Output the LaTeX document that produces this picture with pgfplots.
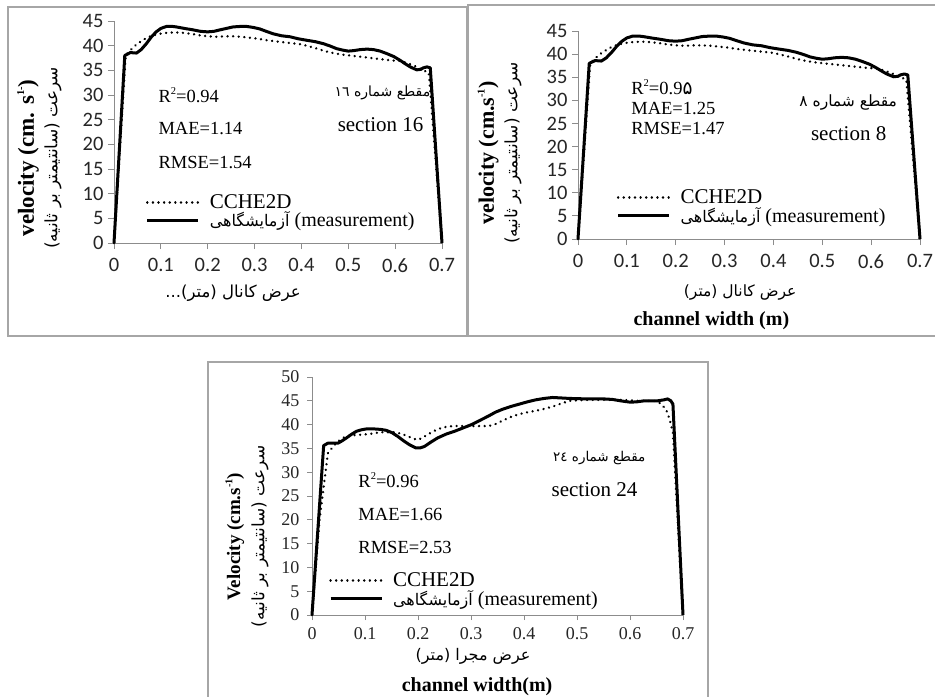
\documentclass[border=0pt]{standalone}
\usepackage{fontspec}
\setmainfont{Liberation Serif}
\newfontfamily\calib{Carlito}
\newfontfamily\arabicfont[Script=Arabic]{DejaVu Sans}
\usepackage{pgfplots}
\usepackage{pgfplotstable}
\pgfplotsset{compat=1.18}
\TeXXeTstate=1
\definecolor{framegray}{gray}{0.65}
\definecolor{axgray}{gray}{0.55}
\newcommand{\fs}[1]{\fontsize{#1bp}{#1bp}\selectfont}
\newcommand{\fa}[1]{{\arabicfont\fs{16}\beginR #1\endR}}
\newcommand{\sups}[1]{\raisebox{0.42em}{\fontsize{10.5bp}{10.5bp}\selectfont #1}}

\pgfplotstableread{
x y
0 0
0.023 38.0
0.035 38.6
0.048 38.5
0.058 39.2
0.069 40.4
0.08 41.8
0.09 42.8
0.1 43.5
0.112 43.9
0.125 43.9
0.133 43.8
0.15 43.5
0.169 43.2
0.185 42.9
0.2 42.8
0.213 42.9
0.226 43.2
0.24 43.5
0.254 43.8
0.27 43.9
0.283 43.9
0.297 43.7
0.311 43.4
0.325 42.9
0.34 42.4
0.358 42.0
0.376 41.8
0.393 41.4
0.411 41.1
0.43 40.8
0.447 40.4
0.462 39.9
0.475 39.4
0.488 39.1
0.5 38.9
0.512 39.0
0.525 39.2
0.54 39.3
0.554 39.2
0.568 38.9
0.582 38.4
0.597 37.8
0.611 37.0
0.622 36.3
0.632 35.7
0.646 35.1
0.655 35.2
0.66 35.5
0.668 35.7
0.675 35.5
0.7 0
}\measA

\pgfplotstableread{
x y
0 0
0.025 38.0
0.034 39.0
0.045 40.0
0.055 40.7
0.068 41.5
0.083 42.1
0.097 42.4
0.112 42.6
0.13 42.7
0.148 42.6
0.165 42.4
0.183 42.1
0.2 41.9
0.219 41.8
0.236 41.9
0.254 41.9
0.272 41.8
0.29 41.6
0.308 41.4
0.326 41.1
0.343 40.9
0.361 40.7
0.379 40.5
0.397 40.3
0.415 39.9
0.433 39.4
0.45 38.9
0.468 38.5
0.486 38.2
0.504 38.0
0.522 37.8
0.54 37.6
0.557 37.4
0.575 37.2
0.593 37.0
0.611 36.9
0.625 36.5
0.639 36.0
0.65 35.5
0.66 35.0
0.672 34.5
0.7 0
}\ccheA

\pgfplotstableread{
x y
0 0
0.022 35.6
0.03 36.1
0.049 36.1
0.057 36.6
0.065 37.2
0.075 38.0
0.084 38.6
0.093 38.9
0.103 39.1
0.116 39.1
0.129 39.0
0.14 38.8
0.151 38.3
0.162 37.5
0.174 36.5
0.185 35.7
0.196 35.1
0.204 35.1
0.212 35.4
0.224 36.3
0.237 37.2
0.253 38.0
0.269 38.6
0.285 39.3
0.301 40.0
0.317 40.9
0.333 41.8
0.346 42.6
0.359 43.2
0.375 43.8
0.391 44.3
0.407 44.8
0.422 45.2
0.438 45.5
0.454 45.7
0.47 45.6
0.486 45.5
0.518 45.4
0.55 45.4
0.566 45.3
0.582 45.0
0.601 44.7
0.614 44.8
0.627 45.0
0.652 45.0
0.664 45.2
0.671 45.4
0.677 45.0
0.681 44.3
0.7 0
}\measB

\pgfplotstableread{
x y
0 0
0.014 19.8
0.03 34.0
0.043 35.8
0.054 36.9
0.065 37.6
0.081 37.8
0.097 37.9
0.113 38.1
0.129 38.4
0.154 38.4
0.168 38.1
0.18 37.6
0.19 37.1
0.199 36.8
0.208 37.2
0.218 37.9
0.231 38.7
0.244 39.3
0.256 39.6
0.269 39.7
0.301 39.7
0.333 39.7
0.346 40.1
0.359 40.8
0.375 41.6
0.391 42.2
0.407 42.6
0.422 42.9
0.438 43.3
0.454 43.8
0.47 44.4
0.486 45.0
0.502 45.1
0.518 45.2
0.582 45.2
0.614 45.0
0.645 45.0
0.657 44.5
0.668 43.2
0.675 41.0
0.681 38.3
0.69 19.8
0.7 0
}\ccheB

\pgfplotsset{
 excel/.style={
   scale only axis, anchor=south west, clip=false,
   xmin=0, xmax=0.7, ymin=0,
   axis x line=bottom, axis y line=left,
   axis line style={-, draw=axgray, line width=0.9bp},
   every tick/.style={draw=axgray, line width=0.9bp},
   tick align=outside, major tick length=6bp,
   xtick={0,0.1,0.2,0.3,0.4,0.5,0.6,0.7},
   /pgf/number format/assume math mode=true,
   xticklabel style={/pgf/number format/fixed, /pgf/number format/precision=1},
   ticklabel style={text=black!85},
   legend image code/.code={\draw[##1] (0bp,0bp) -- (51bp,0bp); \path (60bp,0bp);},
   legend cell align=left,
   legend style={draw=none, fill=none, inner sep=0pt, outer sep=0pt, row sep=0pt,
     nodes={inner sep=1bp}},
 },
 meas/.style={black, line width=3bp, line join=round},
 cche/.style={black, line width=2.6bp, dash pattern=on 0.01bp off 5.6bp, line cap=round, line join=round},
}

\begin{document}
\begin{tikzpicture}
\path[use as bounding box] (0,0) rectangle (935bp,-697bp);
\fill[white] (0,0) rectangle (935bp,-697bp);
% frames
\draw[framegray, line width=1.5bp] (8bp,-7bp) rectangle (467bp,-336bp);
\draw[framegray, line width=1.5bp] (935bp,-5bp) -- (468bp,-5bp) -- (468bp,-336bp) -- (935bp,-336bp);
\draw[framegray, line width=1.5bp] (208bp,-697bp) -- (208bp,-362bp) -- (708bp,-362bp) -- (708bp,-697bp);

% ---------- top-left: section 16
\begin{axis}[excel, at={(114bp,-243bp)}, width=328bp, height=222bp, ymax=45,
  ytick={0,5,...,45},
  ticklabel style={font=\calib\fs{20.5}},
  xticklabel style={yshift=-6bp}, yticklabel style={xshift=-1bp},
  legend style={at={(0.097,0.142)}, anchor=west}]
\addplot[cche] table[x=x,y=y]{\ccheA};
\addlegendentry{\fs{21}CCHE2D}
\addplot[meas] table[x=x,y=y]{\measA};
\addlegendentry{\fs{20}\fa{آزمایشگاهی}\ (measurement)}
\node[anchor=west, font=\fs{18.5}] at (axis cs:0.0875,30) {R\sups{2}=0.94};
\node[anchor=west, font=\fs{18.5}] at (axis cs:0.0875,23.3) {MAE=1.14};
\node[anchor=west, font=\fs{18.5}] at (axis cs:0.0875,16.4) {RMSE=1.54};
\node[font=\arabicfont\fs{14}] at (axis cs:0.573,30.4) {\beginR مقطع شماره ١٦\endR};
\node[font=\fs{21}] at (axis cs:0.569,23.9) {section 16};
\node[rotate=90, font=\bfseries\fs{23}] at (rel axis cs:-0.262,0.383) {velocity (cm. s\sups{1-})};
\node[rotate=90, font=\arabicfont\fs{17}] at (rel axis cs:-0.186,0.383) {\beginR سرعت (سانتیمتر بر ثانیه)\endR};
\node[font=\arabicfont\fs{16.5}] at (rel axis cs:0.363,-0.225) {\beginR عرض کانال (متر)...\endR};
\end{axis}

% ---------- top-right: section 8
\begin{axis}[excel, at={(578bp,-239bp)}, width=342bp, height=208bp, ymax=45,
  ytick={0,5,...,45},
  ticklabel style={font=\calib\fs{20.5}},
  xticklabel style={yshift=-6bp}, yticklabel style={xshift=-1bp},
  legend style={at={(0.113,0.156)}, anchor=west}]
\addplot[cche] table[x=x,y=y]{\ccheA};
\addlegendentry{\fs{21}CCHE2D}
\addplot[meas] table[x=x,y=y]{\measA};
\addlegendentry{\fs{20}\fa{آزمایشگاهی}\ (measurement)}
\node[anchor=west, font=\fs{18.5}] at (axis cs:0.102,32.9) {R\sups{2}=0.9{\arabicfont ۵}};
\node[anchor=west, font=\fs{18.5}] at (axis cs:0.102,28.3) {MAE=1.25};
\node[anchor=west, font=\fs{18.5}] at (axis cs:0.102,24.0) {RMSE=1.47};
\node[font=\arabicfont\fs{15.5}] at (axis cs:0.553,29.6) {\beginR مقطع شماره ٨\endR};
\node[font=\fs{21}] at (axis cs:0.554,22.9) {section 8};
\node[rotate=90, font=\bfseries\fs{22}] at (rel axis cs:-0.263,0.413) {velocity (cm.s\sups{-1})};
\node[rotate=90, font=\arabicfont\fs{17}] at (rel axis cs:-0.19,0.413) {\beginR سرعت (سانتیمتر بر ثانیه)\endR};
\node[font=\arabicfont\fs{15.5}] at (rel axis cs:0.474,-0.255) {\beginR عرض کانال (متر)\endR};
\node[font=\bfseries\fs{20}] at (rel axis cs:0.39,-0.394) {channel width (m)};
\end{axis}

% ---------- bottom: section 24
\begin{axis}[excel, at={(312bp,-615bp)}, width=371bp, height=238bp, ymax=50,
  ytick={0,5,...,50}, major tick length=5bp,
  ticklabel style={font=\fs{18}},
  xticklabel style={yshift=-4bp}, yticklabel style={xshift=-4bp},
  legend style={at={(0.046,0.107)}, anchor=west}]
\addplot[cche] table[x=x,y=y]{\ccheB};
\addlegendentry{\fs{21}CCHE2D}
\addplot[meas] table[x=x,y=y]{\measB};
\addlegendentry{\fs{20}\fa{آزمایشگاهی}\ (measurement)}
\node[anchor=west, font=\fs{18.5}] at (axis cs:0.081,28.4) {R\sups{2}=0.96};
\node[anchor=west, font=\fs{18.5}] at (axis cs:0.081,21.2) {MAE=1.66};
\node[anchor=west, font=\fs{18.5}] at (axis cs:0.081,14.1) {RMSE=2.53};
\node[font=\arabicfont\fs{13.5}] at (axis cs:0.542,33.0) {\beginR مقطع شماره ٢٤\endR};
\node[font=\fs{21}] at (axis cs:0.533,26.3) {section 24};
\node[rotate=90, font=\bfseries\fs{19}] at (rel axis cs:-0.208,0.33) {Velocity (cm.s\sups{-1})};
\node[rotate=90, font=\arabicfont\fs{17}] at (rel axis cs:-0.140,0.33) {\beginR سرعت (سانتیمتر بر ثانیه)\endR};
\node[font=\arabicfont\fs{16}] at (rel axis cs:0.434,-0.172) {\beginR عرض مجرا (متر)\endR};
\node[font=\bfseries\fs{20}] at (rel axis cs:0.445,-0.30) {channel width(m)};
\end{axis}
\end{tikzpicture}
\end{document}
